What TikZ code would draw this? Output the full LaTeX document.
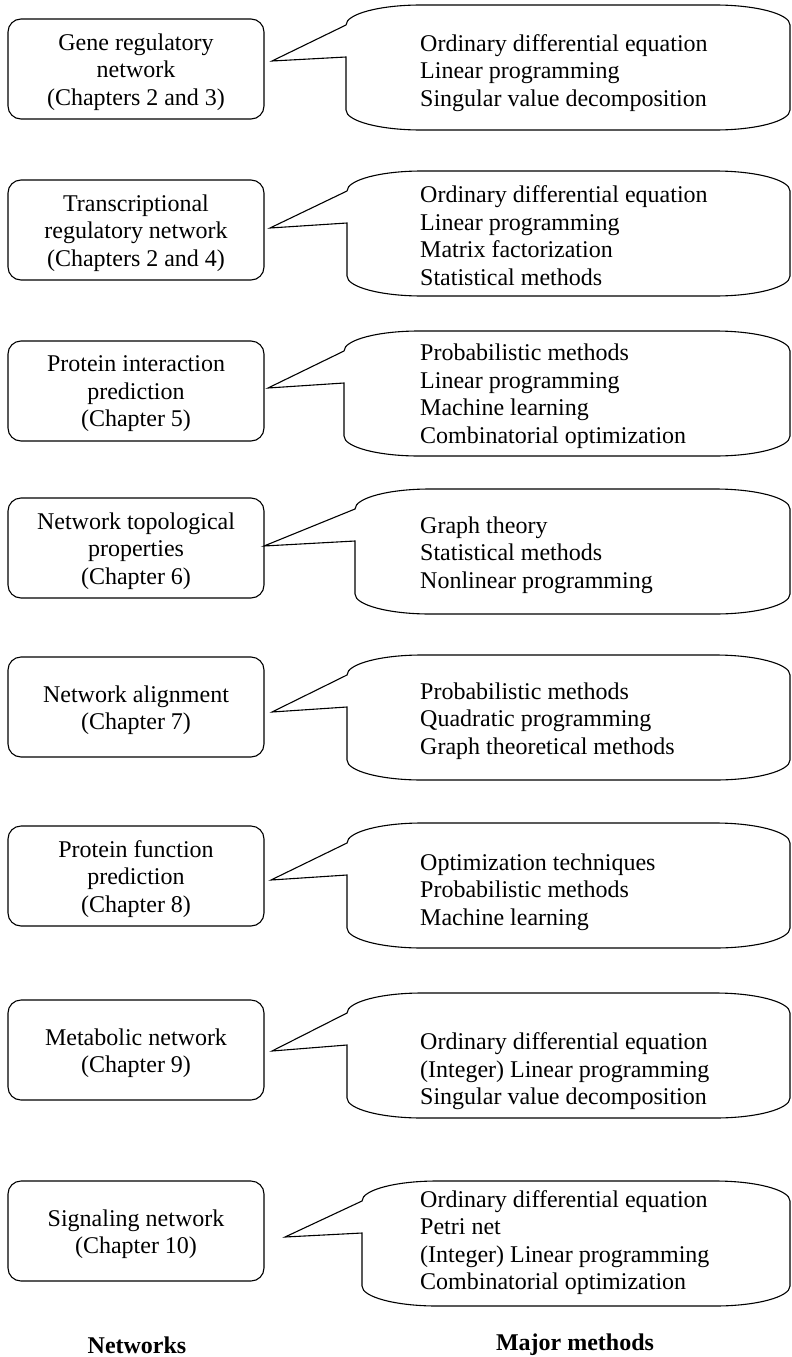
\documentclass[tikz,border=0pt]{standalone}
\usepackage{fontspec}
\setmainfont{Liberation Serif}
\newcommand{\mycallout}[5]{% #1 left x, #2 top y, #3 tip x, #4 tip y, #5 name
  \coordinate (#5tip) at (#3,-#4);
  \draw[calloutline] (#5tip) -- (#1,-#2-20)
    arc[start angle=180,end angle=90,x radius=75,y radius=20]
    -- (715,-#2) arc[start angle=90,end angle=0,x radius=75,y radius=20]
    -- (790,-#2-105) arc[start angle=0,end angle=-90,x radius=75,y radius=20]
    -- (#1+75,-#2-125) arc[start angle=270,end angle=180,x radius=75,y radius=20]
    -- (#1,-#2-52) -- cycle;}
\begin{document}
\begin{tikzpicture}[x=1pt,y=1pt,
  every node/.style={font=\fontsize{24}{27.5}\selectfont},
  netbox/.style={draw,line width=1.1pt,rounded corners=13pt,minimum width=256pt,minimum height=100pt,align=center,inner sep=0pt,text depth=0pt},
  boxtext/.style={align=center,inner sep=0pt,yshift=-3pt},
  methods/.style={anchor=west,align=left,inner sep=0pt,yshift=-2.5pt},
  calloutline/.style={draw,line width=1.1pt,line join=miter},
  lbl/.style={font=\fontsize{24}{27.5}\selectfont\bfseries,inner sep=0pt}]
\useasboundingbox (0,0) rectangle (792,-1357);

% Row 1
\node[netbox] (n1) at (136,-69) {};
\node[boxtext] (t1) at (n1) {Gene regulatory\\network\\(Chapters 2 and 3)};
\mycallout{346}{5}{272}{61}{c1}
\node[methods] (m1) at (420,-70.5) {Ordinary differential equation\\Linear programming\\Singular value decomposition};

% Row 2
\node[netbox] (n2) at (136,-230) {};
\node[boxtext] (t2) at (n2) {Transcriptional\\regulatory network\\(Chapters 2 and 4)};
\mycallout{347}{171}{270}{228}{c2}
\node[methods] (m2) at (420,-233) {Ordinary differential equation\\Linear programming\\Matrix factorization\\Statistical methods};

% Row 3
\node[netbox] (n3) at (136,-391) {};
\node[boxtext] (t3) at (n3) {Protein interaction\\prediction\\(Chapter 5)};
\mycallout{344}{331}{268}{388}{c3}
\node[methods] (m3) at (420,-393.5) {Probabilistic methods\\Linear programming\\Machine learning\\Combinatorial optimization};

% Row 4
\node[netbox] (n4) at (136,-548) {};
\node[boxtext] (t4) at (n4) {Network topological\\properties\\(Chapter 6)};
\mycallout{355}{489}{264}{546}{c4}
\node[methods] (m4) at (420,-552.5) {Graph theory\\Statistical methods\\Nonlinear programming};

% Row 5
\node[netbox] (n5) at (136,-707) {};
\node[boxtext] (t5) at (n5) {Network alignment\\(Chapter 7)};
\mycallout{347}{655}{272}{712}{c5}
\node[methods] (m5) at (420,-718.5) {Probabilistic methods\\Quadratic programming\\Graph theoretical methods};

% Row 6
\node[netbox] (n6) at (136,-876) {};
\node[boxtext] (t6) at (n6) {Protein function\\prediction\\(Chapter 8)};
\mycallout{347}{823}{271}{880}{c6}
\node[methods] (m6) at (420,-889.5) {Optimization techniques\\Probabilistic methods\\Machine learning};

% Row 7
\node[netbox] (n7) at (136,-1050) {};
\node[boxtext] (t7) at (n7) {Metabolic network\\(Chapter 9)};
\mycallout{347}{993}{272}{1051}{c7}
\node[methods] (m7) at (420,-1069) {Ordinary differential equation\\(Integer) Linear programming\\Singular value decomposition};

% Row 8
\node[netbox] (n8) at (136,-1231) {};
\node[boxtext] (t8) at (n8) {Signaling network\\(Chapter 10)};
\mycallout{362}{1181}{285}{1237}{c8}
\node[methods] (m8) at (420,-1240) {Ordinary differential equation\\Petri net\\(Integer) Linear programming\\Combinatorial optimization};

% Column labels
\node[lbl] (l1) at (137,-1345) {Networks};
\node[lbl] (l2) at (575,-1345) {Major methods};
\end{tikzpicture}
\end{document}
